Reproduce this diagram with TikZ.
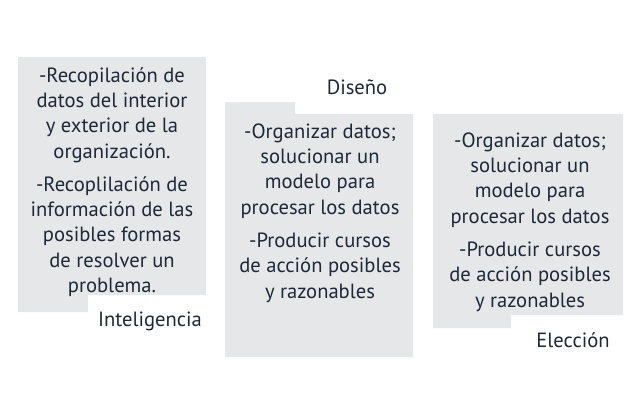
\documentclass[tikz,border=0pt]{standalone}
\usepackage{fontspec}
\setmainfont{PT Sans}
\usetikzlibrary{positioning}

\definecolor{boxgray}{HTML}{E6E7E8}
\definecolor{inkblue}{HTML}{1D2939}

\begin{document}
\begin{tikzpicture}[x=1pt, y=-1pt]
			\tikzset{
				textblock/.style={align=center, inner sep=0pt, text=inkblue, font=\fontsize{20.6}{25.3}\selectfont},
				caption/.style={inner sep=0pt, text=inkblue, font=\fontsize{20.6}{25.3}\selectfont},
				panel/.style={fill=boxgray},
			}
			\useasboundingbox (0,0) rectangle (640,408);
			%gray panels
			\fill[panel] (18,57) -- (206,57) -- (206,295) -- (88,295) -- (88,312) -- (18,312) -- cycle;
			\fill[panel] (225,102) -- (295,102) -- (295,114) -- (413,114) -- (413,357) -- (225,357) -- cycle;
			\fill[panel] (433,114) -- (623,114) -- (623,315) -- (511,315) -- (511,328) -- (433,328) -- cycle;
			%texts
			\node[textblock] (intel) at (112,182) {-Recopilación de\\datos del interior\\y exterior de la\\organización.\\[8pt]-Recoplilación de\\información de las\\posibles formas\\de resolver un\\problema.};
			\node[textblock] (design) at (320,213) {-Organizar datos;\\solucionar un\\modelo para\\procesar los datos\\[8pt]-Producir cursos\\de acción posibles\\y razonables};
			\node[textblock] (choice) at (530,222) {-Organizar datos;\\solucionar un\\modelo para\\procesar los datos\\[8pt]-Producir cursos\\de acción posibles\\y razonables};
			%captions
			\node[caption] (intelname) at (150,321) {Inteligencia};
			\node[caption] (designname) at (357,87) {Diseño};
			\node[caption] (choicename) at (573,340) {Elección};
		\end{tikzpicture}
\end{document}
